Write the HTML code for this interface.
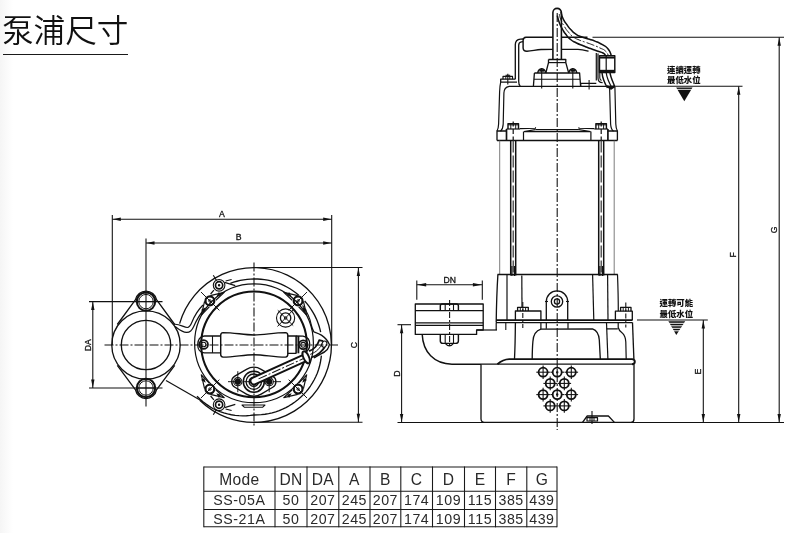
<!DOCTYPE html>
<html lang="zh-Hant"><head><meta charset="utf-8"><title>泵浦尺寸</title>
<style>
html,body{margin:0;padding:0;background:#fff;}
body{width:800px;height:533px;position:relative;overflow:hidden;font-family:"Liberation Sans","Noto Sans CJK TC",sans-serif;}
.grad{position:absolute;left:0;top:0;width:13px;height:533px;background:linear-gradient(to right,#f5f5f5,#fff);}
h1{position:absolute;left:2.2px;top:8.7px;margin:0;font-size:31.6px;line-height:44px;font-weight:350;will-change:transform;color:#111;letter-spacing:0px;white-space:nowrap;}
.ul{position:absolute;left:3px;top:53.9px;width:124.8px;height:1.2px;background:#1a1a1a;}
svg{position:absolute;left:0;top:0;will-change:transform;}
svg *{vector-effect:none}
svg text{font-family:"Liberation Sans","Noto Sans CJK TC",sans-serif;}
</style></head><body>
<div class="grad"></div>
<h1>泵浦尺寸</h1>
<div class="ul"></div>
<svg width="800" height="533" viewBox="0 0 800 533" fill="none" stroke="#111" stroke-linecap="butt" stroke-linejoin="round">
<g id="dims">
<line x1="112.3" y1="215" x2="112.3" y2="345" stroke-width="1.08" />
<line x1="331.7" y1="215" x2="331.7" y2="345" stroke-width="1.08" />
<line x1="112.3" y1="219.3" x2="331.7" y2="219.3" stroke-width="1.08" />
<polygon points="112.80,219.30 120.80,217.60 120.80,221.00" fill="#111" stroke="none"/>
<polygon points="331.20,219.30 323.20,217.60 323.20,221.00" fill="#111" stroke="none"/>
<text x="222" y="217" font-size="8.7" text-anchor="middle" fill="#111" stroke="#111" stroke-width="0.3" >A</text>
<line x1="146" y1="238.5" x2="146" y2="406.5" stroke-width="1.08" />
<line x1="146" y1="243" x2="331.7" y2="243" stroke-width="1.08" />
<polygon points="146.50,243.00 154.50,241.30 154.50,244.70" fill="#111" stroke="none"/>
<polygon points="331.20,243.00 323.20,241.30 323.20,244.70" fill="#111" stroke="none"/>
<text x="238.7" y="240.4" font-size="8.7" text-anchor="middle" fill="#111" stroke="#111" stroke-width="0.3" >B</text>
<line x1="254" y1="267.5" x2="362.5" y2="267.5" stroke-width="1.08" />
<line x1="254" y1="422.3" x2="362.5" y2="422.3" stroke-width="1.08" />
<line x1="358.4" y1="267.5" x2="358.4" y2="422.3" stroke-width="1.08" />
<polygon points="358.40,268.00 356.70,276.00 360.10,276.00" fill="#111" stroke="none"/>
<polygon points="358.40,421.80 356.70,413.80 360.10,413.80" fill="#111" stroke="none"/>
<text x="356.7" y="345.2" font-size="8.7" text-anchor="middle" fill="#111" stroke="#111" stroke-width="0.3" transform="rotate(-90 356.7 345.2)" >C</text>
<line x1="89" y1="301.6" x2="162.5" y2="301.6" stroke-width="1.08" />
<line x1="89" y1="388" x2="162.5" y2="388" stroke-width="1.08" />
<line x1="92.8" y1="301.6" x2="92.8" y2="388" stroke-width="1.08" />
<polygon points="92.80,302.00 91.10,310.00 94.50,310.00" fill="#111" stroke="none"/>
<polygon points="92.80,387.60 91.10,379.60 94.50,379.60" fill="#111" stroke="none"/>
<text x="90.8" y="345.1" font-size="8.7" text-anchor="middle" fill="#111" stroke="#111" stroke-width="0.3" transform="rotate(-90 90.8 345.1)" >DA</text>
<line x1="416.8" y1="280.6" x2="416.8" y2="299.8" stroke-width="1.08" />
<line x1="482.3" y1="280.6" x2="482.3" y2="299.8" stroke-width="1.08" />
<line x1="416.8" y1="284.8" x2="482.3" y2="284.8" stroke-width="1.08" />
<polygon points="417.20,284.80 426.20,283.10 426.20,286.50" fill="#111" stroke="none"/>
<polygon points="481.90,284.80 472.90,283.10 472.90,286.50" fill="#111" stroke="none"/>
<text x="449.8" y="282.9" font-size="8.6" text-anchor="middle" fill="#111" stroke="#111" stroke-width="0.3" >DN</text>
<line x1="397.5" y1="324.7" x2="411" y2="324.7" stroke-width="1.08" />
<line x1="401.6" y1="324.7" x2="401.6" y2="422.4" stroke-width="1.08" />
<polygon points="401.60,325.20 399.90,333.20 403.30,333.20" fill="#111" stroke="none"/>
<polygon points="401.60,422.00 399.90,414.00 403.30,414.00" fill="#111" stroke="none"/>
<text x="399.6" y="373.5" font-size="8.7" text-anchor="middle" fill="#111" stroke="#111" stroke-width="0.3" transform="rotate(-90 399.6 373.5)" >D</text>
<line x1="397.5" y1="422.5" x2="784" y2="422.5" stroke-width="1.08" />
<line x1="637" y1="320" x2="707.8" y2="320" stroke-width="1.08" />
<line x1="703.3" y1="320" x2="703.3" y2="422.4" stroke-width="1.08" />
<polygon points="703.30,320.50 701.60,328.50 705.00,328.50" fill="#111" stroke="none"/>
<polygon points="703.30,422.00 701.60,414.00 705.00,414.00" fill="#111" stroke="none"/>
<text x="701" y="371.5" font-size="8.7" text-anchor="middle" fill="#111" stroke="#111" stroke-width="0.3" transform="rotate(-90 701 371.5)" >E</text>
<line x1="609" y1="86.3" x2="742.5" y2="86.3" stroke-width="1.08" />
<line x1="738.7" y1="86.3" x2="738.7" y2="422.4" stroke-width="1.08" />
<polygon points="738.70,86.80 737.00,94.80 740.40,94.80" fill="#111" stroke="none"/>
<polygon points="738.70,422.00 737.00,414.00 740.40,414.00" fill="#111" stroke="none"/>
<text x="735.7" y="254.8" font-size="8.7" text-anchor="middle" fill="#111" stroke="#111" stroke-width="0.3" transform="rotate(-90 735.7 254.8)" >F</text>
<line x1="592.5" y1="37.3" x2="784" y2="37.3" stroke-width="1.08" />
<line x1="779.2" y1="37.3" x2="779.2" y2="422.4" stroke-width="1.08" />
<polygon points="779.20,37.80 777.50,45.80 780.90,45.80" fill="#111" stroke="none"/>
<polygon points="779.20,422.00 777.50,414.00 780.90,414.00" fill="#111" stroke="none"/>
<text x="777.2" y="229.9" font-size="8.7" text-anchor="middle" fill="#111" stroke="#111" stroke-width="0.3" transform="rotate(-90 777.2 229.9)" >G</text>
<text x="683.8" y="73.3" font-size="8.4" text-anchor="middle" fill="#111" stroke="#111" stroke-width="0" font-weight="900">連續運轉</text>
<text x="683.8" y="83.4" font-size="8.4" text-anchor="middle" fill="#111" stroke="#111" stroke-width="0" font-weight="900">最低水位</text>
<polygon points="676.2,87.5 692.5,87.5 684.3,101.3" fill="#111" stroke="none"/>
<line x1="677" y1="89.4" x2="692" y2="89.4" stroke-width="0.84" stroke="#fff"/>
<text x="676.3" y="306.1" font-size="8.4" text-anchor="middle" fill="#111" stroke="#111" stroke-width="0" font-weight="900">運轉可能</text>
<text x="676.3" y="317.4" font-size="8.4" text-anchor="middle" fill="#111" stroke="#111" stroke-width="0" font-weight="900">最低水位</text>
<polygon points="668.4,321.2 685.2,321.2 676.3,335" fill="#111" stroke="none"/>
<line x1="668" y1="323.3" x2="686" y2="323.3" stroke-width="0.96" stroke="#fff"/>
<line x1="668" y1="325.8" x2="686" y2="325.8" stroke-width="0.96" stroke="#fff"/>
<line x1="668" y1="328.3" x2="686" y2="328.3" stroke-width="0.96" stroke="#fff"/>
<line x1="668" y1="330.8" x2="686" y2="330.8" stroke-width="0.96" stroke="#fff"/>
</g>
<g id="topview">
<line x1="254" y1="262.5" x2="254" y2="427" stroke-width="1.08" stroke-dasharray="9 2 2 2"/>
<line x1="104.5" y1="345" x2="338" y2="345" stroke-width="1.08" stroke-dasharray="9 2 2 2"/>
<path d="M179.60,323.67 A77.4,77.4 0 1 1 199.75,400.21" stroke-width="1.32" />
<path d="M230.35,283.38 L233.60,282.23 L236.92,281.25 L240.28,280.44 L243.68,279.81 L247.10,279.36 L250.55,279.09 L254.00,279.00 L257.46,279.02 L260.91,279.23 L264.36,279.62 L267.78,280.18 L271.17,280.93 L274.52,281.85 L277.82,282.95 L281.06,284.22 L284.24,285.66 L287.33,287.26 L290.35,289.03 L293.26,290.96 L296.08,293.03 L298.79,295.26" stroke-width="1.32" />
<path d="M304.65,300.97 L306.95,303.63 L309.10,306.42 L311.12,309.31 L312.98,312.31 L314.68,315.40 L316.22,318.59 L317.59,321.85 L318.80,325.19 L319.82,328.59 L320.67,332.04" stroke-width="1.32" />
<path d="M321.38,355.67 L320.94,359.23 L320.32,362.77 L319.50,366.28 L318.50,369.76 L317.28,373.17 L315.83,376.50 L314.21,379.76 L312.42,382.94 L310.46,386.02 L308.33,389.00 L306.03,391.85 L303.53,394.53 L300.89,397.08 L298.12,399.49 L295.23,401.75 L292.22,403.86 L289.11,405.80 L285.89,407.59 L282.58,409.20 L279.19,410.62 L275.71,411.81 L272.17,412.81 L268.59,413.63 L264.97,414.26 L261.33,414.70 L257.67,414.94 L254.00,415.00 L250.31,415.46 L246.57,415.73 L242.79,415.80 L238.98,415.67 L235.16,415.33 L231.34,414.73 L227.55,413.91 L223.78,412.88 L220.04,411.65 L216.35,410.21 L212.78,408.47 L209.40,406.39 L206.12,404.13 L202.95,401.70 L199.91,399.09 L197.00,396.32" stroke-width="1.32" />
<circle cx="254.00" cy="344.40" r="52.8" stroke-width="2.04" />
<circle cx="254.00" cy="343.30" r="59.4" stroke-width="1.2" />
<circle cx="146.00" cy="345.00" r="34.2" stroke-width="1.32" />
<circle cx="146.00" cy="345.00" r="24.7" stroke-width="1.32" />
<circle cx="146.00" cy="301.60" r="9.2" stroke-width="2.04" />
<circle cx="146.00" cy="301.60" r="7.2" stroke-width="0.96" />
<line x1="137.0" y1="301.6" x2="155.0" y2="301.6" stroke-width="0.96" />
<circle cx="146.00" cy="388.00" r="9.2" stroke-width="2.04" />
<circle cx="146.00" cy="388.00" r="7.2" stroke-width="0.96" />
<line x1="137.0" y1="388.0" x2="155.0" y2="388.0" stroke-width="0.96" />
<path d="M117.3,324.5 L135.5,299.7 A10.7,10.7 0 0 1 156.5,299.7 L174.7,324.5" stroke-width="1.32" />
<path d="M117.3,365.3 L135.5,389.9 A10.7,10.7 0 0 0 156.5,389.9 L174.7,365.3" stroke-width="1.32" />
<path d="M174.2,324.3 C179,323.6 184,327.4 187.3,327.5 C189.8,327.4 190.6,325.5 192,322 C195,314.5 198.5,309.5 203,305" stroke-width="1.2" />
<path d="M175.3,326.6 C179,329.3 182,332 186.5,332.4 C190.5,332.6 192.2,330 193.7,326.5 C196.5,320 200,314 204.5,309" stroke-width="1.2" />
<line x1="166" y1="380.4" x2="200" y2="400" stroke-width="1.2" />
<circle cx="298.12" cy="389.12" r="4.4" stroke-width="2.22" />
<path d="M303.43,388.73 L306.66,374.79 L298.71,383.19" stroke-width="1.2" />
<polygon points="302.31,382.74 307.04,380.10 303.70,377.90" fill="#111" stroke="none"/>
<path d="M297.73,394.43 L283.79,397.66 L292.19,389.71" stroke-width="1.2" />
<polygon points="291.74,393.31 289.10,398.04 286.90,394.70" fill="#111" stroke="none"/>
<circle cx="298.12" cy="389.12" r="1.2" stroke-width="0.96" />
<line x1="288.65" y1="379.65" x2="307.03" y2="398.03" stroke-width="0.96" />
<circle cx="209.88" cy="389.12" r="4.4" stroke-width="2.22" />
<path d="M210.27,394.43 L224.21,397.66 L215.81,389.71" stroke-width="1.2" />
<polygon points="216.26,393.31 218.90,398.04 221.10,394.70" fill="#111" stroke="none"/>
<path d="M204.57,388.73 L201.34,374.79 L209.29,383.19" stroke-width="1.2" />
<polygon points="205.69,382.74 200.96,380.10 204.30,377.90" fill="#111" stroke="none"/>
<circle cx="209.88" cy="389.12" r="1.2" stroke-width="0.96" />
<line x1="219.35" y1="379.65" x2="200.97" y2="398.03" stroke-width="0.96" />
<circle cx="209.88" cy="300.88" r="4.4" stroke-width="2.22" />
<path d="M204.57,301.27 L201.34,315.21 L209.29,306.81" stroke-width="1.2" />
<polygon points="205.69,307.26 200.96,309.90 204.30,312.10" fill="#111" stroke="none"/>
<path d="M210.27,295.57 L224.21,292.34 L215.81,300.29" stroke-width="1.2" />
<polygon points="216.26,296.69 218.90,291.96 221.10,295.30" fill="#111" stroke="none"/>
<circle cx="209.88" cy="300.88" r="1.2" stroke-width="0.96" />
<line x1="219.35" y1="310.35" x2="200.97" y2="291.97" stroke-width="0.96" />
<circle cx="298.12" cy="300.88" r="4.4" stroke-width="2.22" />
<path d="M297.73,295.57 L283.79,292.34 L292.19,300.29" stroke-width="1.2" />
<polygon points="291.74,296.69 289.10,291.96 286.90,295.30" fill="#111" stroke="none"/>
<path d="M303.43,301.27 L306.66,315.21 L298.71,306.81" stroke-width="1.2" />
<polygon points="302.31,307.26 307.04,309.90 303.70,312.10" fill="#111" stroke="none"/>
<circle cx="298.12" cy="300.88" r="1.2" stroke-width="0.96" />
<line x1="288.65" y1="310.35" x2="307.03" y2="291.97" stroke-width="0.96" />
<circle cx="219.10" cy="285.30" r="5.8" stroke-width="1.08" />
<circle cx="219.10" cy="285.30" r="3.6" stroke-width="1.68" />
<circle cx="219.10" cy="285.30" r="0.7" stroke-width="1.08" />
<circle cx="219.10" cy="404.70" r="5.8" stroke-width="1.08" />
<circle cx="219.10" cy="404.70" r="3.6" stroke-width="1.68" />
<circle cx="219.10" cy="404.70" r="0.7" stroke-width="1.08" />
<line x1="213.3" y1="275.2" x2="216.4" y2="280.4" stroke-width="1.08" />
<line x1="225.6" y1="280.9" x2="231.6" y2="279.4" stroke-width="1.08" />
<line x1="213.3" y1="414.8" x2="216.4" y2="409.6" stroke-width="1.08" />
<line x1="225.6" y1="409.1" x2="231.6" y2="410.6" stroke-width="1.08" />
<path d="M224.6,282.4 L235.3,285.6 M213.9,290.2 L210.6,294" stroke-width="1.2" />
<path d="M224.6,407.6 L235.3,404.4 M213.9,399.8 L210.6,396" stroke-width="1.2" />
<circle cx="285.60" cy="318.00" r="9.1" stroke-width="1.08" />
<circle cx="285.60" cy="318.00" r="5.2" stroke-width="1.32" />
<circle cx="285.60" cy="318.00" r="1.3" stroke-width="0.96" />
<line x1="277.5" y1="326.5" x2="293.5" y2="309.5" stroke-width="0.96" />
<line x1="277.8" y1="310.3" x2="293.2" y2="325.6" stroke-width="0.96" />
<path d="M223,332.6 C235,332.6 243,335 254,335 C265,335 273,332.6 285.5,332.6 Q287.8,332.8 287.8,335.2 L287.8,354.6 Q287.8,357 285.5,357.1 C273,357.1 265,354.7 254,354.7 C243,354.7 235,357.1 223,357.1 Q220.7,357 220.7,354.6 L220.7,335.2 Q220.7,332.8 223,332.6 Z" stroke-width="1.44" />
<path d="M220.7,336 L204.5,336 C200,336 197.7,340 197.7,344.5 C197.7,349 200,352.9 204.5,352.9 L220.7,352.9" stroke-width="1.32" />
<line x1="212.5" y1="336" x2="212.5" y2="352.9" stroke-width="1.08" />
<circle cx="203.60" cy="344.50" r="4.4" stroke-width="1.68" />
<circle cx="203.60" cy="344.50" r="2.3" stroke-width="1.08" />
<path d="M287.8,336 L296,336 L296,353.3 L287.8,353.3" stroke-width="1.32" />
<line x1="296.9" y1="336" x2="296.9" y2="353.3" stroke-width="1.2" />
<line x1="298.6" y1="336" x2="298.6" y2="353.3" stroke-width="1.44" />
<path d="M296,336 L303,336.2 C307.5,337 310,340.5 309.8,345 C309.5,349 307.5,351.5 304.5,352.6" stroke-width="1.32" />
<circle cx="303.20" cy="344.80" r="4.4" stroke-width="1.8" />
<circle cx="303.20" cy="344.80" r="2.4" stroke-width="1.08" />
<circle cx="253.80" cy="381.70" r="10.5" stroke-width="1.56" />
<circle cx="253.80" cy="381.70" r="7.7" stroke-width="1.32" />
<circle cx="253.80" cy="381.70" r="4.6" stroke-width="1.44" />
<circle cx="253.80" cy="381.70" r="2.0" stroke-width="1.08" />
<path d="M246.46,369.31 A14.4,14.4 0 0 1 261.14,369.31 L272.76,376.19 A6.4,6.4 0 0 1 272.76,387.21 L261.14,394.09 A14.4,14.4 0 0 1 246.46,394.09 L234.84,387.21 A6.4,6.4 0 0 1 234.84,376.19 Z" stroke-width="1.32" />
<circle cx="237.80" cy="381.70" r="4.1" stroke-width="1.08" />
<circle cx="237.80" cy="381.70" r="1.6" stroke-width="3.12" />
<line x1="237.8" y1="371.2" x2="237.8" y2="392.2" stroke-width="0.96" />
<circle cx="269.20" cy="381.70" r="4.1" stroke-width="1.08" />
<circle cx="269.20" cy="381.70" r="1.6" stroke-width="3.12" />
<line x1="269.2" y1="371.2" x2="269.2" y2="392.2" stroke-width="0.96" />
<line x1="228" y1="381.7" x2="281" y2="381.7" stroke-width="0.96" stroke-dasharray="9 2 2 2"/>
<g transform="translate(254 381) rotate(-24.4)">
<path d="M55,-3.5 L0,-3.5 A3.5,3.5 0 0 0 0,3.5 L55,3.5" stroke-width="1.98" fill="#fff"/>
<line x1="5" y1="0" x2="55" y2="0" stroke-width="0.96" stroke-dasharray="9 2 2 2"/>
<ellipse cx="57.3" cy="0" rx="2.7" ry="6.5" stroke-width="1.9" fill="#fff"/>
</g>
<path d="M309.1,351.2 C312,350 314,348.5 315.4,347 C317.5,344.5 318.5,342.5 319.2,340.2 L323.2,341.2" stroke-width="1.8" />
<path d="M311.2,357.5 C314.5,356.3 317.5,354.8 319.7,352.8 C322,350.8 323.7,349 324.7,347" stroke-width="1.8" />
<path d="M310.2,354.4 C313.5,353.2 316,351.6 317.8,349.8 C320,347.6 321.3,345.5 322,343.5" stroke-width="0.96" />
<path d="M311.2,325 C312,328 312.8,330 313.8,331.8 C316,332.6 319,333.6 321.4,335.1 C325,337.6 328,341 329.4,344.4 C329,346.5 328.3,348.2 327.3,349.5 C325.5,351.6 323,353 320.5,354.1 C318,355.4 316,356.7 313.8,357.9" stroke-width="1.32" />
<ellipse cx="324.3" cy="344.2" rx="2.4" ry="3.2" stroke-width="1.1" transform="rotate(25 324.3 344.2)"/>
<path d="M302.5,305.5 C307,311.5 310,318 311.3,325" stroke-width="1.2" />
<path d="M242,405 L244.5,407.3 L262.5,407.3 L265,405 Z" stroke-width="1.08" />
</g>
<g id="sideview">
<line x1="557.2" y1="13" x2="557.2" y2="430" stroke-width="1.08" stroke-dasharray="9 2 2 2"/>
<path d="M552.9,59.5 L552.9,12.6 A4.25,4.25 0 0 1 561.4,12.6 L561.4,59.5" stroke-width="1.56" />
<path d="M560.90,11.50 C561.60,13.83 561.00,14.13 563.00,18.50 C565.00,22.87 564.23,20.83 566.90,24.60 C569.57,28.37 568.00,26.60 571.00,29.80 C574.00,33.00 572.23,31.80 575.90,34.20 C579.57,36.60 577.50,35.33 582.00,37.00 C586.50,38.67 584.57,37.60 589.40,39.20 C594.23,40.80 592.00,39.90 596.50,41.80 C601.00,43.70 598.90,42.37 602.90,44.90 C606.90,47.43 605.70,45.80 608.50,49.40 C611.30,53.00 610.37,53.60 611.30,55.70" stroke-width="1.56" />
<path d="M557.30,15.60 C557.97,17.90 557.60,18.00 559.30,22.50 C561.00,27.00 560.17,25.07 562.40,29.10 C564.63,33.13 563.40,31.23 566.00,34.60 C568.60,37.97 566.70,36.40 570.20,39.20 C573.70,42.00 571.98,40.73 576.50,43.00 C581.02,45.27 579.08,44.13 583.75,46.00 C588.42,47.87 586.02,46.93 590.50,48.60 C594.98,50.27 593.03,49.53 597.20,51.00 C601.37,52.47 600.17,51.43 603.00,53.00 C605.83,54.57 604.80,54.80 605.70,55.70" stroke-width="1.56" />
<path d="M559.20,14.00 C559.87,16.17 559.40,16.23 561.20,20.50 C563.00,24.77 562.17,22.90 564.60,26.80 C567.03,30.70 565.70,28.90 568.50,32.20 C571.30,35.50 569.43,34.10 573.00,36.70 C576.57,39.30 574.70,38.03 579.20,40.00 C583.70,41.97 581.73,40.87 586.50,42.60 C591.27,44.33 589.00,43.40 593.50,45.20 C598.00,47.00 595.97,46.00 600.00,48.00 C604.03,50.00 602.80,48.63 605.60,51.20 C608.40,53.77 607.47,54.20 608.40,55.70" stroke-width="0.96" stroke-dasharray="8 2 2 2"/>
<path d="M552.9,37.2 L526,37.2 Q523.1,37.4 523.1,40.5 L523.1,48 Q523.3,51.3 527,51.2 C532,51.1 536,49.6 541,49.5 L552.9,49.4" stroke-width="1.44" />
<path d="M561.4,37.2 L587.5,37.2 M561.4,49.4 L578,49.4 C582,49.5 585,50.3 588.5,51.2" stroke-width="1.44" />
<path d="M523.3,39 L520.5,39.1 Q515.3,39.6 515.3,44.6 L515.3,79.2" stroke-width="1.32" />
<path d="M523.1,41.7 L521.5,41.8 Q518.7,42.2 518.7,45.2 L518.7,81.5 Q518.7,85 520.3,86" stroke-width="1.32" />
<path d="M515.3,79.2 L500.7,79.2 L500.7,82.2 L517,82.2" stroke-width="1.32" />
<path d="M503,79.2 L503,76.4 L512.5,76.4 L512.5,79.2" stroke-width="1.2" />
<line x1="505.8" y1="76.4" x2="505.8" y2="79.2" stroke-width="0.96" />
<line x1="509.8" y1="76.4" x2="509.8" y2="79.2" stroke-width="0.96" />
<line x1="507.8" y1="73.8" x2="507.8" y2="84.5" stroke-width="1.08" />
<line x1="505.5" y1="75.3" x2="510.2" y2="75.3" stroke-width="1.08" />
<path d="M596.3,53 L596.3,80.5 M598,53.5 L598,78 Q598,82.7 602.6,82.7" stroke-width="1.2" />
<path d="M599.8,73 L599.8,78 Q600,80 601.5,80.5" stroke-width="1.08" />
<path d="M599.5,55.7 L614.8,55.7 L614.8,72.6 L599.5,72.6 Z" stroke-width="1.44" />
<line x1="599.5" y1="57.6" x2="614.8" y2="57.6" stroke-width="1.92" />
<line x1="599.5" y1="70.9" x2="614.8" y2="70.9" stroke-width="2.16" />
<line x1="606.2" y1="55.7" x2="606.2" y2="72.6" stroke-width="1.2" />
<path d="M602,72.6 C602.5,78 604.5,83 607.5,88" stroke-width="1.44" />
<path d="M606.2,72.6 C606.8,77.5 609,82.5 611.5,87" stroke-width="1.2" />
<path d="M610,72.6 C610.5,77 613,82 614.6,86.3" stroke-width="1.44" />
<path d="M607,86 L611,88.6 L614.8,86" stroke-width="2.16" />
<path d="M580.7,86.3 L580.7,83.3 L596.3,83.3" stroke-width="1.2" />
<line x1="589.1" y1="80" x2="589.1" y2="89.4" stroke-width="1.08" />
<path d="M548.5,59.5 L565.8,59.5 L565.8,62.6 L568.7,73 M548.5,59.5 L548.5,62.6 L545.8,73" stroke-width="1.32" />
<line x1="548.5" y1="62.6" x2="565.8" y2="62.6" stroke-width="1.2" />
<path d="M534.4,73 L579.6,73 L580.6,86.3 M534.4,73 L533.4,86.3" stroke-width="1.32" />
<line x1="534" y1="79.2" x2="580" y2="79.2" stroke-width="1.08" />
<path d="M537.7,73 Q538.2,69.3 541.7,68.8 Q545.2,69.3 545.7,73" stroke-width="1.44" />
<line x1="541.7" y1="68" x2="541.7" y2="88.5" stroke-width="1.08" />
<line x1="539.4000000000001" y1="70.8" x2="544.0" y2="70.8" stroke-width="1.8" />
<path d="M568.8,73 Q569.3,69.3 572.8,68.8 Q576.3,69.3 576.8,73" stroke-width="1.44" />
<line x1="572.8" y1="68" x2="572.8" y2="88.5" stroke-width="1.08" />
<line x1="570.5" y1="70.8" x2="575.0999999999999" y2="70.8" stroke-width="1.8" />
<line x1="509" y1="86.3" x2="615" y2="86.3" stroke-width="1.32" />
<path d="M500.7,82.2 Q499.8,86 499.6,92 L498.6,124 Q498.4,129 497,131" stroke-width="1.2" />
<path d="M509.2,86.3 Q504,87.3 503.9,93 L503.2,124 Q503,129 500.5,131.3" stroke-width="1.2" />
<path d="M614.9,87 L615.8,124 Q616,129 617.4,131" stroke-width="1.2" />
<path d="M609.6,88 L610.6,124 Q611,129.5 613.5,131.3" stroke-width="1.2" />
<path d="M497,140.5 L497,131 L506.5,131" stroke-width="1.32" />
<line x1="506.5" y1="129" x2="506.5" y2="140.5" stroke-width="1.68" />
<line x1="506.5" y1="129" x2="520" y2="129" stroke-width="1.2" />
<path d="M520,128.6 L535.5,128.2 L535.5,127.3 M524,131.5 L535.5,129.6" stroke-width="1.08" />
<line x1="523.5" y1="131.5" x2="523.5" y2="140.5" stroke-width="1.2" />
<path d="M508,129 L508,123.6 L518.5,123.6 L518.5,129" stroke-width="1.44" />
<line x1="510.8" y1="123.6" x2="510.8" y2="129" stroke-width="0.96" />
<line x1="515.7" y1="123.6" x2="515.7" y2="129" stroke-width="0.96" />
<line x1="508" y1="124.8" x2="518.5" y2="124.8" stroke-width="1.08" />
<line x1="513.2" y1="121.5" x2="513.2" y2="140.5" stroke-width="1.2" stroke-dasharray="5 2.5"/>
<path d="M617.4,140.5 L617.4,131 L607.9,131" stroke-width="1.32" />
<line x1="607.9" y1="129" x2="607.9" y2="140.5" stroke-width="1.68" />
<line x1="607.9" y1="129" x2="594.4" y2="129" stroke-width="1.2" />
<path d="M594.4,128.6 L578.9,128.2 L578.9,127.3 M590.4,131.5 L578.9,129.6" stroke-width="1.08" />
<line x1="590.9" y1="131.5" x2="590.9" y2="140.5" stroke-width="1.2" />
<path d="M606.4,129 L606.4,123.6 L595.9,123.6 L595.9,129" stroke-width="1.44" />
<line x1="603.6" y1="123.6" x2="603.6" y2="129" stroke-width="0.96" />
<line x1="598.7" y1="123.6" x2="598.7" y2="129" stroke-width="0.96" />
<line x1="606.4" y1="124.8" x2="595.9" y2="124.8" stroke-width="1.08" />
<line x1="601.2" y1="121.5" x2="601.2" y2="140.5" stroke-width="1.2" stroke-dasharray="5 2.5"/>
<line x1="497" y1="140.5" x2="617.4" y2="140.5" stroke-width="1.44" />
<line x1="535.5" y1="129.6" x2="578.9" y2="129.6" stroke-width="1.32" />
<line x1="524" y1="131.6" x2="590.4" y2="131.6" stroke-width="1.32" />
<line x1="499.7" y1="140.6" x2="499.7" y2="274.5" stroke-width="0.96" stroke="#777"/>
<line x1="614.2" y1="140.6" x2="614.2" y2="274.5" stroke-width="0.96" stroke="#777"/>
<line x1="510.70000000000005" y1="140.6" x2="510.70000000000005" y2="275.5" stroke-width="1.5" />
<line x1="515.7" y1="140.6" x2="515.7" y2="275.5" stroke-width="1.5" />
<line x1="513.2" y1="140.6" x2="513.2" y2="276" stroke-width="1.2" stroke="#333" stroke-dasharray="12 3"/>
<line x1="511.90000000000003" y1="266" x2="511.90000000000003" y2="276" stroke-width="1.2" />
<line x1="514.5" y1="266" x2="514.5" y2="276" stroke-width="1.2" />
<line x1="598.7" y1="140.6" x2="598.7" y2="275.5" stroke-width="1.5" />
<line x1="603.7" y1="140.6" x2="603.7" y2="275.5" stroke-width="1.5" />
<line x1="601.2" y1="140.6" x2="601.2" y2="276" stroke-width="1.2" stroke="#333" stroke-dasharray="12 3"/>
<line x1="599.9000000000001" y1="266" x2="599.9000000000001" y2="276" stroke-width="1.2" />
<line x1="602.5" y1="266" x2="602.5" y2="276" stroke-width="1.2" />
<line x1="497.5" y1="274.5" x2="617.8" y2="274.5" stroke-width="1.32" />
<path d="M497.9,274.5 Q496.6,295 496.2,322.3" stroke-width="1.32" />
<path d="M617.5,274.5 Q618.3,295 618.3,311" stroke-width="1.2" />
<line x1="507" y1="274.5" x2="507" y2="320" stroke-width="1.2" />
<line x1="521.8" y1="275.5" x2="522" y2="307" stroke-width="1.2" />
<line x1="592.6" y1="274.5" x2="593.8" y2="320" stroke-width="1.2" />
<line x1="607.6" y1="274.5" x2="608" y2="320" stroke-width="1.2" />
<path d="M546.3,320 L546.3,301.5 A10.7,10.7 0 0 1 567.7,301.5 L567.7,320" stroke-width="1.32" />
<circle cx="557.00" cy="301.50" r="5.7" stroke-width="1.32" />
<circle cx="557.00" cy="301.50" r="2.6" stroke-width="1.32" />
<line x1="545" y1="301.5" x2="548" y2="301.5" stroke-width="1.08" />
<line x1="566" y1="301.5" x2="569" y2="301.5" stroke-width="1.08" />
<path d="M515.4,320 L515.4,311 L540.9,311 L540.9,320" stroke-width="1.32" />
<path d="M517.6,311 L517.6,307.3 L528.3,307.3 L528.3,311" stroke-width="1.32" />
<line x1="520.3" y1="307.3" x2="520.3" y2="311" stroke-width="0.96" />
<line x1="522.9" y1="307.3" x2="522.9" y2="311" stroke-width="0.96" />
<line x1="525.6" y1="307.3" x2="525.6" y2="311" stroke-width="0.96" />
<line x1="522.8" y1="302" x2="522.8" y2="328" stroke-width="1.08" stroke-dasharray="5 2 2 2"/>
<path d="M615.4,320 L615.4,311.2 L632.3,311.2 L632.3,320" stroke-width="1.32" />
<path d="M620.6,311.2 L620.6,307.4 L631,307.4 L631,311.2" stroke-width="1.32" />
<line x1="623.2" y1="307.4" x2="623.2" y2="311.2" stroke-width="0.96" />
<line x1="625.8" y1="307.4" x2="625.8" y2="311.2" stroke-width="0.96" />
<line x1="628.4" y1="307.4" x2="628.4" y2="311.2" stroke-width="0.96" />
<line x1="625.8" y1="302.5" x2="625.8" y2="327.5" stroke-width="1.08" stroke-dasharray="5 2 2 2"/>
<line x1="496" y1="320.2" x2="632.6" y2="320.2" stroke-width="1.8" />
<line x1="496" y1="322.6" x2="632.6" y2="322.6" stroke-width="1.44" />
<path d="M496.2,322.6 L496.2,330" stroke-width="1.2" />
<line x1="505.8" y1="322.6" x2="505.8" y2="330" stroke-width="1.08" />
<path d="M515.4,322.6 Q515.2,345 514.5,359" stroke-width="1.32" />
<path d="M532.2,359 Q532.3,348 532.9,341.5 Q533.5,331.5 540.9,329.2 L592.5,328.8 Q598.8,331 599.3,340 L600.3,359" stroke-width="1.32" />
<path d="M540.9,322.6 L540.9,329.2 M546.3,322.6 L546.3,328.8 M568,322.6 L568,328.8" stroke-width="1.2" />
<path d="M606.5,322.6 L607.9,359" stroke-width="1.2" />
<path d="M606.7,328.8 L617.8,328.8 M618.2,322.6 L618.2,327.5 Q619,331 622.5,333.2 Q625.6,336.5 625.8,342 L626.2,359" stroke-width="1.2" />
<path d="M632.5,322.6 L633.9,359" stroke-width="1.32" />
<path d="M497.4,364.2 Q503,359.3 509.2,359.1 L632,359.1 Q634.8,359.3 634.8,361.7 Q634.8,364 632,364.2" stroke-width="1.92" />
<line x1="481" y1="364.2" x2="632" y2="364.2" stroke-width="1.2" />
<path d="M481,364.2 L481,419 Q481.2,422.4 484.5,422.4 L631,422.4 Q634,422.2 634,419 L634,364.2" stroke-width="1.32" />
<circle cx="543.10" cy="372.20" r="4.5" stroke-width="1.8" />
<line x1="536.3000000000001" y1="372.2" x2="549.9" y2="372.2" stroke-width="1.08" />
<line x1="543.1" y1="365.4" x2="543.1" y2="379.0" stroke-width="1.08" />
<circle cx="557.20" cy="372.20" r="4.5" stroke-width="1.8" />
<line x1="550.4000000000001" y1="372.2" x2="552.9000000000001" y2="372.2" stroke-width="1.08" />
<line x1="561.5" y1="372.2" x2="564.0" y2="372.2" stroke-width="1.08" />
<circle cx="557.20" cy="372.20" r="0.7" stroke-width="1.08" />
<circle cx="571.30" cy="372.20" r="4.5" stroke-width="1.8" />
<line x1="564.5" y1="372.2" x2="578.0999999999999" y2="372.2" stroke-width="1.08" />
<line x1="571.3" y1="365.4" x2="571.3" y2="379.0" stroke-width="1.08" />
<circle cx="550.20" cy="383.40" r="4.5" stroke-width="1.8" />
<line x1="543.4000000000001" y1="383.4" x2="557.0" y2="383.4" stroke-width="1.08" />
<line x1="550.2" y1="376.59999999999997" x2="550.2" y2="390.2" stroke-width="1.08" />
<circle cx="564.30" cy="383.40" r="4.5" stroke-width="1.8" />
<line x1="557.5" y1="383.4" x2="571.0999999999999" y2="383.4" stroke-width="1.08" />
<line x1="564.3" y1="376.59999999999997" x2="564.3" y2="390.2" stroke-width="1.08" />
<circle cx="543.10" cy="394.60" r="4.5" stroke-width="1.8" />
<line x1="536.3000000000001" y1="394.6" x2="549.9" y2="394.6" stroke-width="1.08" />
<line x1="543.1" y1="387.8" x2="543.1" y2="401.40000000000003" stroke-width="1.08" />
<circle cx="557.20" cy="394.60" r="4.5" stroke-width="1.8" />
<line x1="550.4000000000001" y1="394.6" x2="552.9000000000001" y2="394.6" stroke-width="1.08" />
<line x1="561.5" y1="394.6" x2="564.0" y2="394.6" stroke-width="1.08" />
<circle cx="557.20" cy="394.60" r="0.7" stroke-width="1.08" />
<circle cx="571.30" cy="394.60" r="4.5" stroke-width="1.8" />
<line x1="564.5" y1="394.6" x2="578.0999999999999" y2="394.6" stroke-width="1.08" />
<line x1="571.3" y1="387.8" x2="571.3" y2="401.40000000000003" stroke-width="1.08" />
<circle cx="550.20" cy="405.90" r="4.5" stroke-width="1.8" />
<line x1="543.4000000000001" y1="405.9" x2="557.0" y2="405.9" stroke-width="1.08" />
<line x1="550.2" y1="399.09999999999997" x2="550.2" y2="412.7" stroke-width="1.08" />
<circle cx="564.30" cy="405.90" r="4.5" stroke-width="1.8" />
<line x1="557.5" y1="405.9" x2="571.0999999999999" y2="405.9" stroke-width="1.08" />
<line x1="564.3" y1="399.09999999999997" x2="564.3" y2="412.7" stroke-width="1.08" />
<path d="M582.5,422.4 L587.2,416 L608.4,416 L614.4,422.4" stroke-width="1.32" />
<path d="M587,421 L587,417.6 L597.5,417.6 L597.5,421 Z" stroke-width="1.2" />
<line x1="590" y1="417.6" x2="590" y2="421" stroke-width="0.96" />
<line x1="594" y1="417.6" x2="594" y2="421" stroke-width="0.96" />
<line x1="592" y1="411" x2="592" y2="424" stroke-width="1.08" />
<path d="M415.3,304 L483.2,304 L483.2,330 L476.6,330 L476.6,334.4 L415.3,334.4 Z" stroke-width="1.32" />
<line x1="415.3" y1="310.6" x2="483.2" y2="310.6" stroke-width="1.2" />
<line x1="415.3" y1="322.8" x2="483.2" y2="322.8" stroke-width="1.2" />
<line x1="415.3" y1="325.3" x2="483.2" y2="325.3" stroke-width="1.2" />
<line x1="476.6" y1="330" x2="497" y2="330" stroke-width="1.2" />
<path d="M440.3,310.6 L440.3,306 Q440.3,304 442.3,304 L456.4,304 Q458.4,304 458.4,306 L458.4,310.6" stroke-width="1.44" />
<line x1="445.2" y1="304" x2="445.2" y2="310.6" stroke-width="1.08" />
<line x1="453.5" y1="304" x2="453.5" y2="310.6" stroke-width="1.08" />
<path d="M440.3,334.4 L440.3,341 Q440.3,343.4 443,343.4 L455.7,343.4 Q458.4,343.4 458.4,341 L458.4,334.4" stroke-width="1.44" />
<line x1="445.2" y1="334.4" x2="445.2" y2="343.4" stroke-width="1.08" />
<line x1="453.5" y1="334.4" x2="453.5" y2="343.4" stroke-width="1.08" />
<path d="M445.2,343.4 Q449.5,348.5 453.5,343.4" stroke-width="1.2" />
<line x1="449.6" y1="300" x2="449.6" y2="348" stroke-width="1.08" stroke-dasharray="6 2 2 2"/>
<path d="M422.2,334.4 C423,352 434,364 452,364.2 L481,364.2" stroke-width="1.44" />
</g>
<g id="table">
<line x1="203.8" y1="466.5" x2="203.8" y2="527.3" stroke-width="1.08" stroke="#1a1a1a"/>
<line x1="275" y1="466.5" x2="275" y2="527.3" stroke-width="1.08" stroke="#1a1a1a"/>
<line x1="307" y1="466.5" x2="307" y2="527.3" stroke-width="1.08" stroke="#1a1a1a"/>
<line x1="338.8" y1="466.5" x2="338.8" y2="527.3" stroke-width="1.08" stroke="#1a1a1a"/>
<line x1="370" y1="466.5" x2="370" y2="527.3" stroke-width="1.08" stroke="#1a1a1a"/>
<line x1="400.8" y1="466.5" x2="400.8" y2="527.3" stroke-width="1.08" stroke="#1a1a1a"/>
<line x1="432.5" y1="466.5" x2="432.5" y2="527.3" stroke-width="1.08" stroke="#1a1a1a"/>
<line x1="464.5" y1="466.5" x2="464.5" y2="527.3" stroke-width="1.08" stroke="#1a1a1a"/>
<line x1="495.5" y1="466.5" x2="495.5" y2="527.3" stroke-width="1.08" stroke="#1a1a1a"/>
<line x1="526.8" y1="466.5" x2="526.8" y2="527.3" stroke-width="1.08" stroke="#1a1a1a"/>
<line x1="557" y1="466.5" x2="557" y2="527.3" stroke-width="1.08" stroke="#1a1a1a"/>
<line x1="203.8" y1="467" x2="557" y2="467" stroke-width="1.08" stroke="#1a1a1a"/>
<line x1="203.8" y1="491.3" x2="557" y2="491.3" stroke-width="1.08" stroke="#1a1a1a"/>
<line x1="203.8" y1="509.5" x2="557" y2="509.5" stroke-width="1.08" stroke="#1a1a1a"/>
<line x1="203.8" y1="526.8" x2="557" y2="526.8" stroke-width="1.08" stroke="#1a1a1a"/>
<text x="239.4" y="484.5" font-size="15.6" text-anchor="middle" fill="#2a2a2a" stroke="#2a2a2a" stroke-width="0" letter-spacing="0.3">Mode</text>
<text x="239.4" y="505.2" font-size="14.2" text-anchor="middle" fill="#2a2a2a" stroke="#2a2a2a" stroke-width="0" letter-spacing="0.55">SS-05A</text>
<text x="239.4" y="523.8" font-size="14.2" text-anchor="middle" fill="#2a2a2a" stroke="#2a2a2a" stroke-width="0" letter-spacing="0.55">SS-21A</text>
<text x="291.0" y="484.5" font-size="15.6" text-anchor="middle" fill="#2a2a2a" stroke="#2a2a2a" stroke-width="0" letter-spacing="0.3">DN</text>
<text x="291.0" y="505.2" font-size="14.2" text-anchor="middle" fill="#2a2a2a" stroke="#2a2a2a" stroke-width="0" letter-spacing="0.55">50</text>
<text x="291.0" y="523.8" font-size="14.2" text-anchor="middle" fill="#2a2a2a" stroke="#2a2a2a" stroke-width="0" letter-spacing="0.55">50</text>
<text x="322.9" y="484.5" font-size="15.6" text-anchor="middle" fill="#2a2a2a" stroke="#2a2a2a" stroke-width="0" letter-spacing="0.3">DA</text>
<text x="322.9" y="505.2" font-size="14.2" text-anchor="middle" fill="#2a2a2a" stroke="#2a2a2a" stroke-width="0" letter-spacing="0.55">207</text>
<text x="322.9" y="523.8" font-size="14.2" text-anchor="middle" fill="#2a2a2a" stroke="#2a2a2a" stroke-width="0" letter-spacing="0.55">207</text>
<text x="354.4" y="484.5" font-size="15.6" text-anchor="middle" fill="#2a2a2a" stroke="#2a2a2a" stroke-width="0" letter-spacing="0.3">A</text>
<text x="354.4" y="505.2" font-size="14.2" text-anchor="middle" fill="#2a2a2a" stroke="#2a2a2a" stroke-width="0" letter-spacing="0.55">245</text>
<text x="354.4" y="523.8" font-size="14.2" text-anchor="middle" fill="#2a2a2a" stroke="#2a2a2a" stroke-width="0" letter-spacing="0.55">245</text>
<text x="385.4" y="484.5" font-size="15.6" text-anchor="middle" fill="#2a2a2a" stroke="#2a2a2a" stroke-width="0" letter-spacing="0.3">B</text>
<text x="385.4" y="505.2" font-size="14.2" text-anchor="middle" fill="#2a2a2a" stroke="#2a2a2a" stroke-width="0" letter-spacing="0.55">207</text>
<text x="385.4" y="523.8" font-size="14.2" text-anchor="middle" fill="#2a2a2a" stroke="#2a2a2a" stroke-width="0" letter-spacing="0.55">207</text>
<text x="416.65" y="484.5" font-size="15.6" text-anchor="middle" fill="#2a2a2a" stroke="#2a2a2a" stroke-width="0" letter-spacing="0.3">C</text>
<text x="416.65" y="505.2" font-size="14.2" text-anchor="middle" fill="#2a2a2a" stroke="#2a2a2a" stroke-width="0" letter-spacing="0.55">174</text>
<text x="416.65" y="523.8" font-size="14.2" text-anchor="middle" fill="#2a2a2a" stroke="#2a2a2a" stroke-width="0" letter-spacing="0.55">174</text>
<text x="448.5" y="484.5" font-size="15.6" text-anchor="middle" fill="#2a2a2a" stroke="#2a2a2a" stroke-width="0" letter-spacing="0.3">D</text>
<text x="448.5" y="505.2" font-size="14.2" text-anchor="middle" fill="#2a2a2a" stroke="#2a2a2a" stroke-width="0" letter-spacing="0.55">109</text>
<text x="448.5" y="523.8" font-size="14.2" text-anchor="middle" fill="#2a2a2a" stroke="#2a2a2a" stroke-width="0" letter-spacing="0.55">109</text>
<text x="480.0" y="484.5" font-size="15.6" text-anchor="middle" fill="#2a2a2a" stroke="#2a2a2a" stroke-width="0" letter-spacing="0.3">E</text>
<text x="480.0" y="505.2" font-size="14.2" text-anchor="middle" fill="#2a2a2a" stroke="#2a2a2a" stroke-width="0" letter-spacing="0.55">115</text>
<text x="480.0" y="523.8" font-size="14.2" text-anchor="middle" fill="#2a2a2a" stroke="#2a2a2a" stroke-width="0" letter-spacing="0.55">115</text>
<text x="511.15" y="484.5" font-size="15.6" text-anchor="middle" fill="#2a2a2a" stroke="#2a2a2a" stroke-width="0" letter-spacing="0.3">F</text>
<text x="511.15" y="505.2" font-size="14.2" text-anchor="middle" fill="#2a2a2a" stroke="#2a2a2a" stroke-width="0" letter-spacing="0.55">385</text>
<text x="511.15" y="523.8" font-size="14.2" text-anchor="middle" fill="#2a2a2a" stroke="#2a2a2a" stroke-width="0" letter-spacing="0.55">385</text>
<text x="541.9" y="484.5" font-size="15.6" text-anchor="middle" fill="#2a2a2a" stroke="#2a2a2a" stroke-width="0" letter-spacing="0.3">G</text>
<text x="541.9" y="505.2" font-size="14.2" text-anchor="middle" fill="#2a2a2a" stroke="#2a2a2a" stroke-width="0" letter-spacing="0.55">439</text>
<text x="541.9" y="523.8" font-size="14.2" text-anchor="middle" fill="#2a2a2a" stroke="#2a2a2a" stroke-width="0" letter-spacing="0.55">439</text>
</g>
</svg>
</body></html>
